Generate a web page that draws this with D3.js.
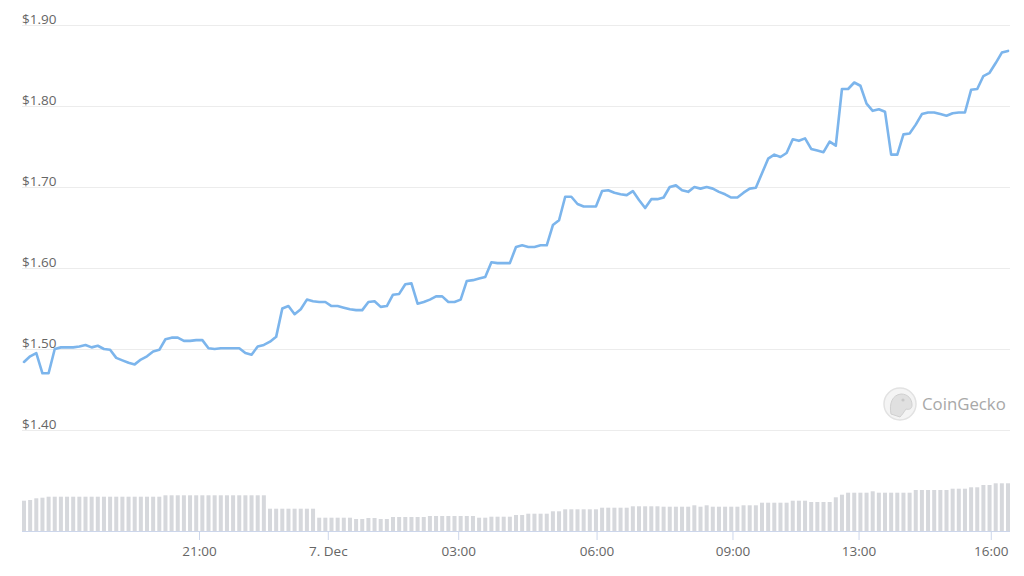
<!DOCTYPE html>
<html>
<head>
<meta charset="utf-8">
<script src="https://cdn.jsdelivr.net/npm/d3@7"></script>
<style>
  html, body { margin: 0; padding: 0; background: #fff; }
  svg { display: block; }
  text { font-family: "Open Sans", "DejaVu Sans", sans-serif; }
</style>
</head>
<body>
<svg id="chart" width="1024" height="576"></svg>
<script>
// ---- Data ----
const prices = [
  1.484, 1.491, 1.495, 1.470, 1.470, 1.500, 1.502, 1.502, 1.502, 1.503,
  1.505, 1.502, 1.504, 1.500, 1.499, 1.489, 1.486, 1.483, 1.481, 1.487,
  1.491, 1.497, 1.499, 1.512, 1.514, 1.514, 1.510, 1.510, 1.511, 1.511,
  1.501, 1.500, 1.501, 1.501, 1.501, 1.501, 1.495, 1.493, 1.503, 1.505,
  1.509, 1.515, 1.550, 1.553, 1.543, 1.549, 1.561, 1.559, 1.558, 1.558,
  1.553, 1.553, 1.551, 1.549, 1.548, 1.548, 1.558, 1.559, 1.552, 1.553,
  1.567, 1.568, 1.580, 1.581, 1.556, 1.558, 1.561, 1.565, 1.565, 1.558,
  1.558, 1.561, 1.584, 1.585, 1.587, 1.589, 1.607, 1.606, 1.606, 1.606,
  1.626, 1.628, 1.626, 1.626, 1.628, 1.628, 1.653, 1.659, 1.688, 1.688,
  1.679, 1.676, 1.676, 1.676, 1.695, 1.696, 1.693, 1.691, 1.690, 1.695,
  1.684, 1.674, 1.685, 1.685, 1.687, 1.700, 1.702, 1.696, 1.694, 1.700,
  1.698, 1.700, 1.698, 1.694, 1.691, 1.687, 1.687, 1.693, 1.698, 1.699,
  1.717, 1.735, 1.740, 1.737, 1.742, 1.759, 1.757, 1.760, 1.747, 1.745,
  1.743, 1.756, 1.751, 1.821, 1.821, 1.829, 1.825, 1.803, 1.794, 1.796,
  1.793, 1.740, 1.740, 1.765, 1.766, 1.777, 1.790, 1.792, 1.792, 1.790,
  1.788, 1.791, 1.792, 1.792, 1.820, 1.821, 1.837, 1.841, 1.853, 1.866,
  1.868
];

const volumes = [
  30.3, 31, 32.7, 33.3, 34.3, 34.3, 34.3, 34.3, 34.3, 34.3,
  34.3, 34.3, 34.3, 34.3, 34.3, 34.3, 34.3, 34.3, 34.3, 34.3,
  34.3, 34.3, 34.3, 35.7, 35.7, 35.7, 35.7, 35.7, 35.7, 35.7,
  35.7, 35.7, 35.7, 35.7, 35.7, 35.7, 35.7, 35.7, 35.7, 35.7,
  22.3, 22.3, 22.3, 22.3, 22.3, 22.3, 22.3, 22.3, 13.3, 13.3,
  13.3, 13.3, 13.3, 13.3, 12, 12, 13, 13, 12, 12,
  14, 14, 14, 14, 14, 14, 15, 15, 15, 15,
  15, 15, 15, 15, 13.3, 13.3, 14.3, 14.3, 14.3, 14.3,
  16, 16, 17.3, 17.3, 17.3, 17.3, 19.7, 19.7, 21.7, 21.7,
  21.7, 21.7, 21.7, 21.7, 23.3, 23.3, 23.3, 23.3, 23.3, 24.7,
  24.7, 24.7, 24.7, 24.7, 24.3, 24.3, 24.3, 24.3, 24.3, 25.7,
  24.3, 25.7, 24.3, 24.3, 24.3, 24.3, 24.3, 25.7, 25.7, 25.7,
  28.3, 28.3, 28.3, 28.3, 28.3, 30.3, 30.3, 30.3, 29, 29,
  29, 29, 33.7, 36.3, 38.3, 38.3, 38.3, 38.3, 39.7, 38.3,
  38.3, 38.3, 38.3, 38.3, 38.3, 41, 41, 41, 41, 41,
  41, 42.3, 42.3, 42.3, 43.7, 43.7, 46, 46, 47.7, 47.7,
  47.7
];

const yTicks = [1.40, 1.50, 1.60, 1.70, 1.80, 1.90];
const xTickLabels = ["21:00", "7. Dec", "03:00", "06:00", "09:00", "13:00", "16:00"];
const xTickIndex = [28.46, 49.4, 70.6, 93.1, 115.2, 135.7, 157.2];

// ---- Layout ----
const svg = d3.select("#chart");
const plotLeft = 22, plotRight = 1010;
const x = d3.scaleLinear().domain([0, prices.length - 1]).range([24, 1008]);
const y = d3.scaleLinear().domain([1.40, 1.90]).range([430, 25]);
const yVol = d3.scaleLinear().domain([0, 48]).range([531, 483]);

// Grid lines + y labels
const grid = svg.append("g");
grid.selectAll("line").data(yTicks).join("line")
  .attr("x1", plotLeft).attr("x2", plotRight)
  .attr("y1", d => Math.round(y(d)) + 0.5).attr("y2", d => Math.round(y(d)) + 0.5)
  .attr("stroke", "#ececec").attr("stroke-width", 1);
grid.selectAll("text").data(yTicks).join("text")
  .attr("x", plotLeft).attr("y", d => Math.round(y(d)) - 1)
  .attr("fill", "#666").attr("font-size", 13.5)
  .text(d => "$" + d3.format(".2f")(d));

// Volume bars
svg.append("g").selectAll("rect").data(volumes).join("rect")
  .attr("x", (d, i) => x(i) - 2)
  .attr("width", 4)
  .attr("y", d => yVol(d))
  .attr("height", d => yVol(0) - yVol(d))
  .attr("fill", "#d6d8dc");

// X axis
const xAxis = d3.axisBottom(x)
  .tickValues(xTickIndex)
  .tickFormat((d, i) => xTickLabels[i])
  .tickSize(9)
  .tickPadding(6);
const gx = svg.append("g").attr("transform", "translate(0,531)").call(xAxis);
gx.select(".domain").remove();
gx.append("line").attr("x1", plotLeft).attr("x2", plotRight)
  .attr("y1", 0.5).attr("y2", 0.5).attr("stroke", "#ccd6eb");
gx.selectAll(".tick line").attr("stroke", "#ccd6eb");
gx.selectAll(".tick text").attr("fill", "#666").attr("font-size", 13.5)
  .attr("font-family", "'Open Sans', 'DejaVu Sans', sans-serif");

// Watermark
const wm = svg.append("g").attr("transform", "translate(900,404)");
wm.append("circle").attr("r", 16).attr("fill", "#f4f4f4").attr("stroke", "#e2e2e2").attr("stroke-width", 1.5);
wm.append("path")
  .attr("d", "M-9,10 C-11,0 -8,-9 1,-10 C8,-10 12,-5 12,1 C12,5 9,6 6,5 C4,8 2,11 0,13 Z")
  .attr("fill", "#e0e0e0").attr("stroke", "#d0d0d0").attr("stroke-width", 1);
wm.append("circle").attr("cx", 3).attr("cy", -4).attr("r", 1.6).attr("fill", "#c8c8c8");
wm.append("text").attr("x", 22).attr("y", 6)
  .attr("font-size", 16.8).attr("fill", "#a8a8a8")
  .text("CoinGecko");

// Price line
const line = d3.line()
  .x((d, i) => x(i))
  .y(d => y(d));
svg.append("path").datum(prices)
  .attr("d", line)
  .attr("fill", "none")
  .attr("stroke", "#7cb5ec")
  .attr("stroke-width", 2.6)
  .attr("stroke-linejoin", "round")
  .attr("stroke-linecap", "round");
</script>
</body>
</html>
